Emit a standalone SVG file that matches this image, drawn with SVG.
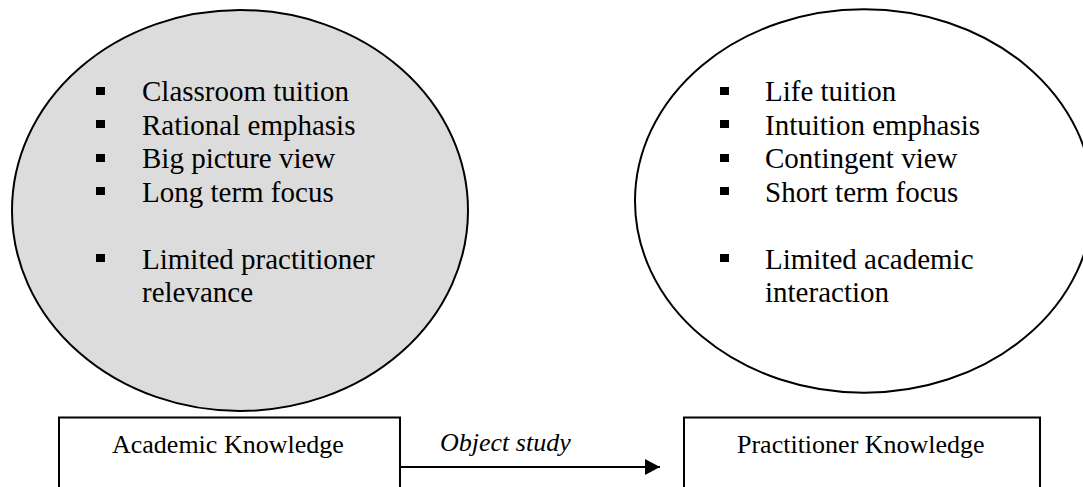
<svg xmlns="http://www.w3.org/2000/svg" width="1083" height="487" viewBox="0 0 1083 487">
<defs>
<style>
text{font-family:"Liberation Serif","Times New Roman",serif;font-size:29px;fill:#000}
.sm{font-size:26px}
.it{font-style:italic}
.ell{stroke:#000;stroke-width:2}
.box{fill:#fff;stroke:#000;stroke-width:2}
.b{fill:#000}
</style>
<marker id="ah" markerWidth="16" markerHeight="16" refX="15" refY="8" orient="auto" markerUnits="userSpaceOnUse">
<path d="M0,0 L15,8 L0,16 Z" fill="#000"/>
</marker>
</defs>
<rect width="1083" height="487" fill="#fff"/>
<g id="academic-ellipse">
<ellipse class="ell" cx="240" cy="210.5" rx="228" ry="200.5" fill="#dcdcdc"/>
<rect class="b" x="96" y="87" width="9" height="8"/>
<rect class="b" x="96" y="120" width="9" height="8"/>
<rect class="b" x="96" y="154" width="9" height="8"/>
<rect class="b" x="96" y="187" width="9" height="8"/>
<rect class="b" x="96" y="254" width="9" height="8"/>
<text x="142" y="101">Classroom tuition</text>
<text x="142" y="134.5">Rational emphasis</text>
<text x="142" y="168">Big picture view</text>
<text x="142" y="201.5">Long term focus</text>
<text x="142" y="268.5">Limited practitioner</text>
<text x="142" y="302">relevance</text>
</g>
<g id="practitioner-ellipse">
<ellipse class="ell" cx="864" cy="201" rx="229" ry="191.7" fill="#fff"/>
<rect class="b" x="720" y="87" width="9" height="8"/>
<rect class="b" x="720" y="120" width="9" height="8"/>
<rect class="b" x="720" y="154" width="9" height="8"/>
<rect class="b" x="720" y="187" width="9" height="8"/>
<rect class="b" x="720" y="254" width="9" height="8"/>
<text x="765" y="101">Life tuition</text>
<text x="765" y="134.5">Intuition emphasis</text>
<text x="765" y="168">Contingent view</text>
<text x="765" y="201.5">Short term focus</text>
<text x="765" y="268.5">Limited academic</text>
<text x="765" y="302">interaction</text>
</g>
<g id="academic-box">
<rect class="box" x="59" y="417.5" width="341" height="100"/>
<text class="sm" x="112" y="453">Academic Knowledge</text>
</g>
<g id="practitioner-box">
<rect class="box" x="684" y="417.5" width="356" height="100"/>
<text class="sm" x="737" y="453">Practitioner Knowledge</text>
</g>
<g id="connectors">
<line x1="400" y1="467" x2="660" y2="467" stroke="#000" stroke-width="2" marker-end="url(#ah)"/>
<text class="sm it" x="440" y="451">Object study</text>
</g>
</svg>
